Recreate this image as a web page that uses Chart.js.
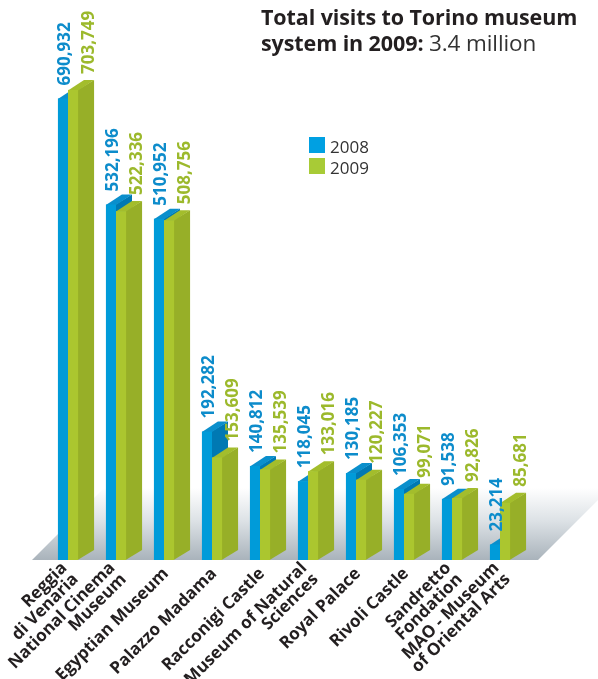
<!DOCTYPE html>
<html>
<head>
<meta charset="utf-8">
<title>Total visits to Torino museum system in 2009</title>
<script src="https://cdn.jsdelivr.net/npm/chart.js@4.4.1/dist/chart.umd.min.js"></script>
<style>
  html, body { margin: 0; padding: 0; background: #fff; }
  #wrap { position: relative; width: 598px; height: 679px; }
  #title {
    position: absolute; left: 261px; top: 4px; width: 337px;
    font-family: "Open Sans", sans-serif; font-size: 21.5px; line-height: 26px;
    color: #231f20; font-weight: 700; letter-spacing: -0.1px;
  }
  #title span { font-weight: 400; color: #333; font-size: 22.5px; }
</style>
</head>
<body>
<div id="wrap">
  <canvas id="museumChart" width="598" height="679"></canvas>
  <div id="title">Total visits to Torino museum<br>system in 2009: <span>3.4 million</span></div>
</div>
<script>
// ---- data ----
var museums = [
  ['Reggia', 'di Venaria'],
  ['National Cinema', 'Museum'],
  ['Egyptian Museum'],
  ['Palazzo Madama'],
  ['Racconigi Castle'],
  ['Museum of Natural', 'Sciences'],
  ['Royal Palace'],
  ['Rivoli Castle'],
  ['Sandretto', 'Fondation'],
  ['MAO - Museum', 'of Oriental Arts']
];
var visits2008 = [690932, 532196, 510952, 192282, 140812, 118045, 130185, 106353, 91538, 23214];
var visits2009 = [703749, 522336, 508756, 153609, 135539, 133016, 120227, 99071, 92826, 85681];
var seriesNames = ['2008', '2009'];

// colours per series: front / side / top / label
var palette = [
  { front: '#009bd9', side: '#0079b3', top: '#0a8fcc', text: '#0d8ccb', key: '#00a0e2' },
  { front: '#abc62f', side: '#97af28', top: '#a3bd2c', text: '#9cb92c', key: '#a8cb36' }
];

function fmt(v) { return v.toLocaleString('en-US'); }

// bars are laid out by Chart.js (transparent), faces painted here so
// each 2009 bar sits in front of its 2008 neighbour
var bar3d = {
  id: 'bar3d',
  beforeDatasetsDraw: function (chart, args, opts) {
    // floor plane under the bars
    var ctx = chart.ctx, a = chart.chartArea, d = opts.floorDepth;
    var x0 = a.left - 12, x1 = a.right + 14, y = a.bottom;
    var g = ctx.createLinearGradient(0, y - d, 0, y);
    g.addColorStop(0, '#ffffff');
    g.addColorStop(0.45, '#dde2e6');
    g.addColorStop(1, '#a9b3bb');
    ctx.save();
    ctx.fillStyle = g;
    ctx.beginPath();
    ctx.moveTo(x0, y);
    ctx.lineTo(x1, y);
    ctx.lineTo(x1 + d, y - d);
    ctx.lineTo(x0 + d, y - d);
    ctx.closePath();
    ctx.fill();
    ctx.restore();
  },
  afterDatasetsDraw: function (chart, args, opts) {
    var ctx = chart.ctx, a = chart.chartArea;
    var dx = opts.dx, dy = opts.dy;
    var metas = chart.data.datasets.map(function (ds, di) { return chart.getDatasetMeta(di); });
    ctx.save();
    chart.data.labels.forEach(function (lab, i) {
      metas.forEach(function (meta, di) {
        var col = palette[di];
        var p = meta.data[i].getProps(['x', 'y', 'base', 'width'], true);
        var l = p.x - p.width / 2, r = p.x + p.width / 2;
        ctx.fillStyle = col.side;
        ctx.beginPath();
        ctx.moveTo(r - 0.5, p.y); ctx.lineTo(r + dx, p.y - dy);
        ctx.lineTo(r + dx, p.base - dy); ctx.lineTo(r - 0.5, p.base);
        ctx.closePath(); ctx.fill();
        ctx.fillStyle = col.top;
        ctx.beginPath();
        ctx.moveTo(l, p.y + 0.5); ctx.lineTo(l + dx, p.y - dy);
        ctx.lineTo(r + dx, p.y - dy); ctx.lineTo(r, p.y + 0.5);
        ctx.closePath(); ctx.fill();
        ctx.fillStyle = col.front;
        ctx.fillRect(l, p.y, p.width, p.base - p.y);
      });
    });

    // value labels, rotated
    ctx.font = 'bold 17px "Open Sans", sans-serif';
    ctx.textAlign = 'left';
    ctx.textBaseline = 'middle';
    chart.data.datasets.forEach(function (ds, di) {
      metas[di].data.forEach(function (bar, i) {
        var p = bar.getProps(['x', 'y'], true);
        ctx.save();
        ctx.translate(p.x + opts.labelDx[di], p.y - opts.labelGap[di]);
        ctx.rotate(-Math.PI / 2);
        ctx.fillStyle = palette[di].text;
        ctx.fillText(fmt(ds.data[i]), 0, 0);
        ctx.restore();
      });
    });

    // category labels at 45 degrees
    var xs = chart.scales.x;
    ctx.font = 'bold 17px "Open Sans", sans-serif';
    ctx.fillStyle = '#231f20';
    ctx.textAlign = 'right';
    chart.data.labels.forEach(function (lines, i) {
      var cx = xs.getPixelForValue(i);
      ctx.save();
      ctx.translate(cx + 2, a.bottom + 11);
      ctx.rotate(-Math.PI / 4);
      lines.forEach(function (t, k) {
        ctx.fillText(t, 0, (k - (lines.length - 1) / 2) * 16);
      });
      ctx.restore();
    });

    // legend
    ctx.font = '17px "Open Sans", sans-serif';
    ctx.textAlign = 'left';
    ctx.textBaseline = 'alphabetic';
    seriesNames.forEach(function (name, i) {
      var y = opts.legendY + i * 21;
      ctx.fillStyle = palette[i].key;
      ctx.fillRect(opts.legendX, y, 16, 16);
      ctx.fillStyle = '#333';
      ctx.fillText(name, opts.legendX + 21, y + 16);
    });
    ctx.restore();
  }
};

new Chart(document.getElementById('museumChart'), {
  type: 'bar',
  data: {
    labels: museums,
    datasets: [
      { label: seriesNames[0], data: visits2008, backgroundColor: 'rgba(0,0,0,0)' },
      { label: seriesNames[1], data: visits2009, backgroundColor: 'rgba(0,0,0,0)' }
    ]
  },
  options: {
    responsive: false,
    animation: false,
    devicePixelRatio: 1,
    layout: { padding: { left: 44, right: 74, top: 59, bottom: 119 } },
    datasets: { bar: { categoryPercentage: 0.42, barPercentage: 1, borderWidth: 0 } },
    plugins: {
      legend: { display: false },
      tooltip: { enabled: false },
      bar3d: { dx: 16, dy: 10, floorDepth: 72, labelDx: [2, 16], labelGap: [13, 16], legendX: 309, legendY: 137 }
    },
    scales: {
      x: { display: false },
      y: { display: false, min: 0, max: 750000 }
    }
  },
  plugins: [bar3d]
});
</script>
</body>
</html>
